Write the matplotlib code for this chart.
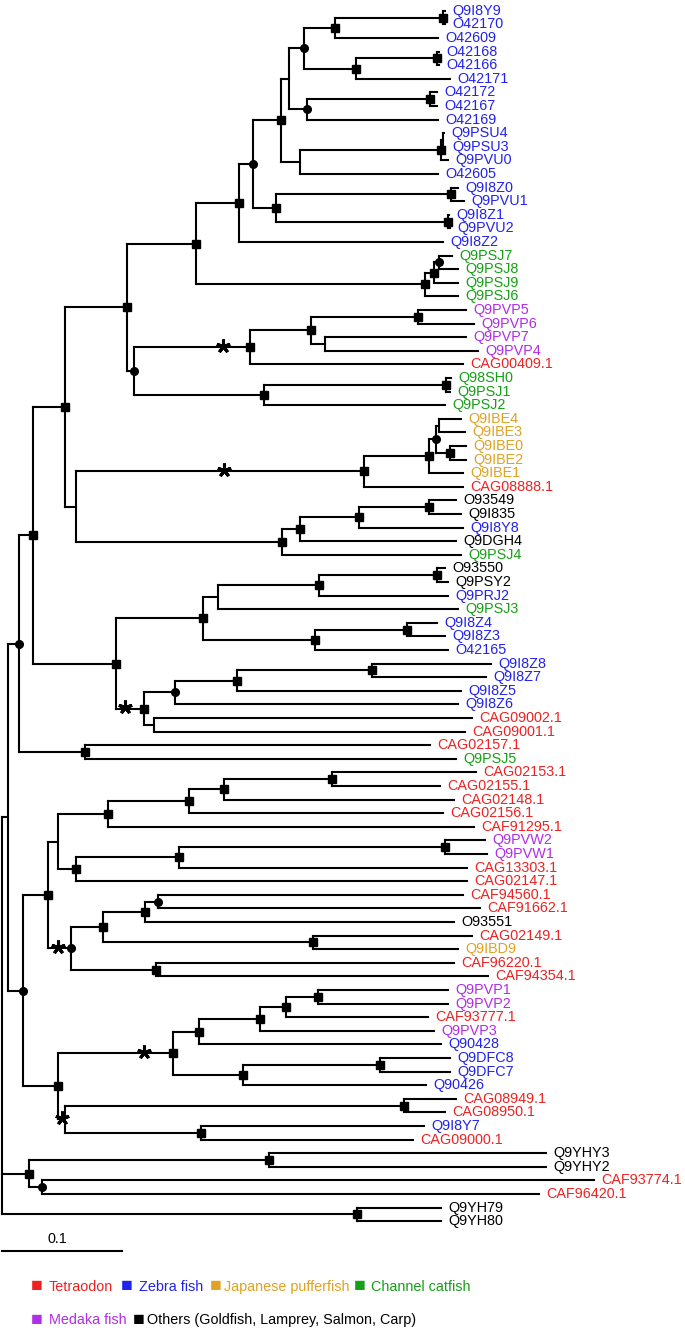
import matplotlib
matplotlib.use('Agg')
import matplotlib.pyplot as plt
from matplotlib.collections import LineCollection

plt.rcParams['font.family'] = ['Liberation Sans', 'DejaVu Sans']

# internal nodes: name, parent, distance from root, support mark
node_names = ['root', 'RA', 'AF', 'AB', 'V', 'U', 'S', 'R', 'Q', 'I', 'H', 'E', 'B', 'A', 'D', 'C',
              'G', 'F', 'K', 'L', 'M', 'P', 'N', 'O', 'T', 'T1', 'T2', 'W', 'WA', 'WB', 'WC', 'WD',
              'X', 'XA', 'Y', 'Z', 'ZA', 'ZB', 'ZC', 'ZD', 'AA', 'AD', 'AE', 'AE2', 'AC', 'CA', 'CC',
              'CE', 'CF', 'CD', 'CG', 'CB', 'CH', 'CJ', 'CK', 'CI', 'AG', 'AH', 'AI', 'AK', 'AL', 'AO',
              'AP', 'AQ', 'AM', 'AM2', 'AM3', 'AR', 'AS', 'AU', 'AU2', 'AV', 'AT', 'AJ', 'AW', 'AX',
              'AZ', 'BA', 'BB', 'AY', 'AY2', 'BC', 'BC1', 'BC2', 'BD', 'BF', 'BG', 'BE']
node_parents = [None, 'root', 'RA', 'AF', 'AB', 'V', 'U', 'S', 'R', 'Q', 'I', 'H', 'E', 'B', 'E', 'D',
                'H', 'G', 'I', 'K', 'L', 'Q', 'P', 'P', 'S', 'T', 'T1', 'U', 'W', 'WA', 'WB', 'WB',
                'W', 'X', 'V', 'Y', 'Z', 'ZA', 'ZB', 'ZB', 'Y', 'AA', 'AD', 'AE', 'AB', 'AC', 'CA',
                'CC', 'CE', 'CA', 'CD', 'AC', 'CB', 'CH', 'CJ', 'CB', 'AF', 'RA', 'AH', 'AI', 'AK', 'AL',
                'AO', 'AP', 'AK', 'AM', 'AM2', 'AI', 'AR', 'AS', 'AU', 'AS', 'AR', 'AH', 'AJ', 'AW',
                'AX', 'AZ', 'BA', 'AW', 'AY', 'AJ', 'BC', 'BC', 'root', 'BD', 'BD', 'root']
node_depths = [0.0, 0.0046, 0.0142, 0.0258, 0.0529, 0.1042, 0.1617, 0.1975, 0.2092, 0.2325, 0.2392,
               0.2517, 0.2775, 0.3675, 0.2950, 0.3625, 0.2542, 0.3567, 0.2483, 0.3658, 0.3675, 0.2283,
               0.3742, 0.3717, 0.3525, 0.3600, 0.3642, 0.1104, 0.2067, 0.2575, 0.3467, 0.2692, 0.2183,
               0.3700, 0.0617, 0.3017, 0.3558, 0.3617, 0.3642, 0.3733, 0.2333, 0.2483, 0.2975, 0.3558,
               0.0950, 0.1675, 0.1800, 0.2642, 0.3625, 0.2608, 0.3375, 0.1183, 0.1442, 0.1958, 0.3083,
               0.1267, 0.0688, 0.0179, 0.0383, 0.0467, 0.0883, 0.1558, 0.1850, 0.2750, 0.0613, 0.1475,
               0.3692, 0.0575, 0.0842, 0.1192, 0.1300, 0.2592, 0.1283, 0.0467, 0.1421, 0.1642, 0.2150,
               0.2367, 0.2633, 0.2008, 0.3150, 0.0529, 0.3350, 0.1658, 0.0229, 0.2225, 0.0333, 0.2958]
node_marks = ['', '', 'o', 's', 's', 's', 's', 's', 'o', 's', '', 'o', 's', 's', 's', 's',
              'o', 's', '', 's', '', 's', 's', 's', 's', 's', 'o', 'o', 's', 's', 's', '',
              's', 's', '', 's', 's', 'o', '', 's', 's', 's', 's', 's', 's', 's', '',
              's', 's', 's', 's', 's', 'o', 's', 's', '', 's', 'o', 's', '', 's', 's',
              's', 's', 's', 's', 's', 'o', 's', 's', 'o', 's', 's', 's', 's', 's',
              's', 's', 's', 's', 's', '', 's', 's', 's', 's', 'o', 's']

# asterisk-marked branches
star_nodes = ['WA', 'Z', 'CB', 'AR', 'AW', 'BC']
star_depths = [0.1842, 0.1850, 0.1025, 0.0467, 0.1183, 0.0500]

leaf_names = ['Q9I8Y9', 'O42170', 'O42609', 'O42168', 'O42166', 'O42171', 'O42172', 'O42167', 'O42169',
              'Q9PSU4', 'Q9PSU3', 'Q9PVU0', 'O42605', 'Q9I8Z0', 'Q9PVU1', 'Q9I8Z1', 'Q9PVU2', 'Q9I8Z2',
              'Q9PSJ7', 'Q9PSJ8', 'Q9PSJ9', 'Q9PSJ6', 'Q9PVP5', 'Q9PVP6', 'Q9PVP7', 'Q9PVP4',
              'CAG00409.1', 'Q98SH0', 'Q9PSJ1', 'Q9PSJ2', 'Q9IBE4', 'Q9IBE3', 'Q9IBE0', 'Q9IBE2',
              'Q9IBE1', 'CAG08888.1', 'O93549', 'Q9I835', 'Q9I8Y8', 'Q9DGH4', 'Q9PSJ4', 'O93550',
              'Q9PSY2', 'Q9PRJ2', 'Q9PSJ3', 'Q9I8Z4', 'Q9I8Z3', 'O42165', 'Q9I8Z8', 'Q9I8Z7', 'Q9I8Z5',
              'Q9I8Z6', 'CAG09002.1', 'CAG09001.1', 'CAG02157.1', 'Q9PSJ5', 'CAG02153.1', 'CAG02155.1',
              'CAG02148.1', 'CAG02156.1', 'CAF91295.1', 'Q9PVW2', 'Q9PVW1', 'CAG13303.1', 'CAG02147.1',
              'CAF94560.1', 'CAF91662.1', 'O93551', 'CAG02149.1', 'Q9IBD9', 'CAF96220.1', 'CAF94354.1',
              'Q9PVP1', 'Q9PVP2', 'CAF93777.1', 'Q9PVP3', 'Q90428', 'Q9DFC8', 'Q9DFC7', 'Q90426',
              'CAG08949.1', 'CAG08950.1', 'Q9I8Y7', 'CAG09000.1', 'Q9YHY3', 'Q9YHY2', 'CAF93774.1',
              'CAF96420.1', 'Q9YH79', 'Q9YH80']
# T Tetraodon, Z Zebra fish, J Japanese pufferfish, C Channel catfish, M Medaka, O others
leaf_species = list('ZZZZZZZZZZZZZZZZZZ' 'CCCC' 'MMMM' 'T' 'CCC' 'JJJJJ' 'T' 'OOZOC' 'OOZC'
                    'ZZZZZZZ' 'TTTC' 'TTTTT' 'MMTTTTOTJTT' 'MMTMZZZZ' 'TTZT' 'OOTTOO')
leaf_parents = ['A', 'A', 'B', 'C', 'C', 'D', 'F', 'F', 'G', 'M', 'M', 'L', 'K', 'N', 'N', 'O', 'O', 'R',
                'T2', 'T2', 'T1', 'T', 'WC', 'WC', 'WD', 'WD', 'WA', 'XA', 'XA', 'X', 'ZC', 'ZC', 'ZD',
                'ZD', 'ZA', 'Z', 'AE2', 'AE2', 'AE', 'AD', 'AA', 'CF', 'CF', 'CE', 'CC', 'CG', 'CG', 'CD',
                'CK', 'CK', 'CJ', 'CH', 'CI', 'CI', 'AG', 'AG', 'AQ', 'AQ', 'AP', 'AO', 'AL', 'AM3', 'AM3',
                'AM2', 'AM', 'AU2', 'AU2', 'AU', 'AV', 'AV', 'AT', 'AT', 'BB', 'BB', 'BA', 'AZ', 'AX',
                'AY2', 'AY2', 'AY', 'BC1', 'BC1', 'BC2', 'BC2', 'BF', 'BF', 'BG', 'BG', 'BE', 'BE']
leaf_depths = [0.3692, 0.3692, 0.3633, 0.3642, 0.3642, 0.3733, 0.3625, 0.3625, 0.3633, 0.3683, 0.3692,
               0.3717, 0.3633, 0.3800, 0.3850, 0.3725, 0.3733, 0.3675, 0.3750, 0.3800, 0.3800, 0.3800,
               0.3867, 0.3933, 0.3867, 0.3967, 0.3842, 0.3742, 0.3733, 0.3692, 0.3825, 0.3858, 0.3867,
               0.3867, 0.3842, 0.3842, 0.3783, 0.3825, 0.3842, 0.3783, 0.3825, 0.3692, 0.3717, 0.3717,
               0.3800, 0.3625, 0.3692, 0.3717, 0.4075, 0.4033, 0.3825, 0.3800, 0.3917, 0.3858, 0.3567,
               0.3783, 0.3950, 0.3650, 0.3767, 0.3675, 0.3933, 0.4025, 0.4042, 0.3875, 0.3875, 0.3842,
               0.3983, 0.3767, 0.3917, 0.3800, 0.3767, 0.4050, 0.3717, 0.3717, 0.3550, 0.3600, 0.3658,
               0.3733, 0.3733, 0.3533, 0.3783, 0.3692, 0.3517, 0.3425, 0.4533, 0.4533, 0.4933, 0.4475,
               0.3658, 0.3658]

species_codes = ['T', 'Z', 'J', 'C', 'M', 'O']
species_labels = ['Tetraodon', 'Zebra fish', 'Japanese pufferfish', 'Channel catfish',
                  'Medaka fish', 'Others (Goldfish, Lamprey, Salmon, Carp)']
species_colors = ['#ee2222', '#2222ee', '#e0a224', '#16a016', '#b02ee6', '#000000']
color_of = dict(zip(species_codes, species_colors))

# ---- layout ----
parent_of = dict(zip(node_names, node_parents))
depth_of = dict(zip(node_names, node_depths))
children = {n: [] for n in node_names}
for n, p in zip(node_names, node_parents):
    if p is not None:
        children[p].append(n)
ypos = {}
for i, (name, p, d) in enumerate(zip(leaf_names, leaf_parents, leaf_depths)):
    ypos[name] = i
    parent_of[name] = p
    depth_of[name] = d
    children[p].append(name)


def node_y(n):
    if n not in ypos:
        ys = [node_y(c) for c in children[n]]
        ypos[n] = (min(ys) + max(ys)) / 2
    return ypos[n]


node_y('root')

segs = []
for n in node_names:
    ys = [ypos[c] for c in children[n]]
    segs.append([(depth_of[n], min(ys)), (depth_of[n], max(ys))])
for n, p in parent_of.items():
    if p is not None:
        segs.append([(depth_of[p], ypos[n]), (depth_of[n], ypos[n])])

fig = plt.figure(figsize=(6.85, 13.3), dpi=100)
ax = fig.add_axes([0, 0, 1, 1])
ax.set_xlim(-2 / 1200, 683 / 1200)
ax.set_ylim(97.0, -0.787)
ax.axis('off')

ax.add_collection(LineCollection(segs, colors='black', linewidths=1.5, capstyle='projecting'))

for n, m in zip(node_names, node_marks):
    if m:
        ax.plot(depth_of[n], ypos[n], marker=m, color='black', markersize=5.5, zorder=3)
for n, d in zip(star_nodes, star_depths):
    ax.plot(d, ypos[n] - 0.12, marker=(5, 2, 0), color='black', markersize=10, mew=2.2, zorder=3)

for name, sp in zip(leaf_names, leaf_species):
    ax.annotate(name, (depth_of[name], ypos[name]), xytext=(5, 0), textcoords='offset points',
                va='center', ha='left', fontsize=10.4, color=color_of[sp])

# scale bar
ax.plot([0, 0.1], [91.2, 91.2], color='black', lw=1.5)
ax.text(0.046, 90.3, '0.1', ha='center', va='center', fontsize=10.4)

# legend
legend_pos = [(37, 49, 1287), (127, 139, 1287), (216, 224, 1287), (360, 371, 1287),
              (37, 49, 1320), (139, 147, 1320)]
for (sx, tx, y), lab, col in zip(legend_pos, species_labels, species_colors):
    fig.text(sx / 685, 1 - y / 1330, '■', color=col, fontsize=14, ha='center', va='center')
    fig.text(tx / 685, 1 - y / 1330, lab, color=col, fontsize=10.4, ha='left', va='center')

fig.savefig('out.png', dpi=100)
